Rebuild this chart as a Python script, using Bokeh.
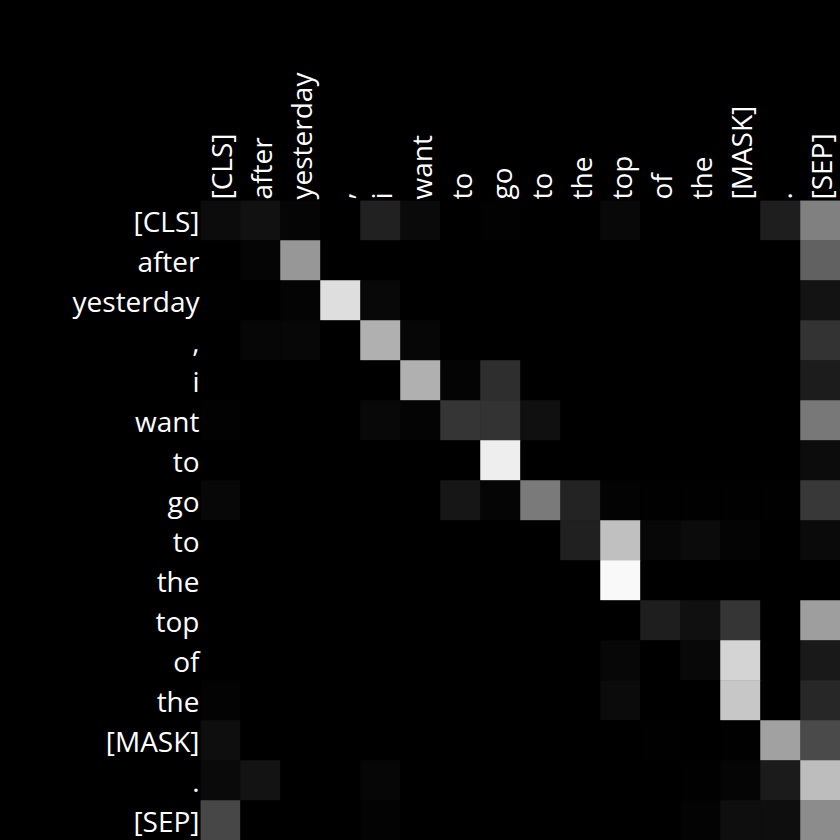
import math
from bokeh.plotting import figure
from bokeh.models import ColumnDataSource, LinearColorMapper, FixedTicker
from bokeh.transform import transform
from bokeh.embed import file_html
from bokeh.resources import INLINE

tokens = ["[CLS]", "after", "yesterday", ",", "i", "want", "to", "go",
          "to", "the", "top", "of", "the", "[MASK]", ".", "[SEP]"]

row_00 = [0.05, 0.07, 0.02, 0.0, 0.13, 0.04, 0.0, 0.01, 0.0, 0.0, 0.035, 0.0, 0.0, 0.0, 0.12, 0.50]
row_01 = [0.0, 0.02, 0.59, 0.0, 0.0, 0.0, 0.0, 0.0, 0.0, 0.0, 0.0, 0.0, 0.0, 0.0, 0.0, 0.38]
row_02 = [0.004, 0.0, 0.016, 0.87, 0.035, 0.0, 0.0, 0.0, 0.0, 0.0, 0.0, 0.0, 0.0, 0.0, 0.0, 0.075]
row_03 = [0.0, 0.024, 0.03, 0.0, 0.69, 0.027, 0.0, 0.0, 0.0, 0.0, 0.0, 0.0, 0.0, 0.0, 0.0, 0.20]
row_04 = [0.0, 0.0, 0.0, 0.0, 0.0, 0.69, 0.016, 0.18, 0.0, 0.0, 0.0, 0.0, 0.0, 0.0, 0.0, 0.11]
row_05 = [0.008, 0.0, 0.0, 0.0, 0.035, 0.016, 0.21, 0.20, 0.063, 0.0, 0.0, 0.0, 0.0, 0.0, 0.0, 0.47]
row_06 = [0.0, 0.0, 0.0, 0.0, 0.0, 0.0, 0.0, 0.93, 0.0, 0.0, 0.0, 0.0, 0.0, 0.0, 0.0, 0.047]
row_07 = [0.03, 0.0, 0.0, 0.0, 0.0, 0.0, 0.086, 0.02, 0.48, 0.137, 0.012, 0.004, 0.004, 0.004, 0.004, 0.22]
row_08 = [0.0, 0.0, 0.0, 0.0, 0.0, 0.0, 0.0, 0.0, 0.0, 0.125, 0.75, 0.03, 0.043, 0.016, 0.0, 0.04]
row_09 = [0.0, 0.0, 0.0, 0.0, 0.0, 0.0, 0.0, 0.0, 0.0, 0.0, 0.976, 0.0, 0.0, 0.0, 0.0, 0.0]
row_10 = [0.0, 0.0, 0.0, 0.0, 0.0, 0.0, 0.0, 0.0, 0.0, 0.0, 0.0, 0.118, 0.063, 0.21, 0.0, 0.62]
row_11 = [0.0, 0.0, 0.0, 0.0, 0.0, 0.0, 0.0, 0.0, 0.0, 0.0, 0.03, 0.0, 0.035, 0.83, 0.0, 0.10]
row_12 = [0.012, 0.0, 0.0, 0.0, 0.0, 0.0, 0.0, 0.0, 0.0, 0.0, 0.043, 0.0, 0.0, 0.78, 0.0, 0.153]
row_13 = [0.055, 0.0, 0.0, 0.0, 0.0, 0.0, 0.0, 0.0, 0.0, 0.0, 0.0, 0.004, 0.0, 0.004, 0.63, 0.29]
row_14 = [0.04, 0.078, 0.0, 0.0, 0.024, 0.0, 0.0, 0.0, 0.0, 0.0, 0.0, 0.0, 0.004, 0.02, 0.106, 0.74]
row_15 = [0.28, 0.0, 0.0, 0.0, 0.012, 0.0, 0.0, 0.0, 0.0, 0.0, 0.0, 0.0, 0.012, 0.055, 0.055, 0.55]

rows = [row_00, row_01, row_02, row_03, row_04, row_05, row_06, row_07,
        row_08, row_09, row_10, row_11, row_12, row_13, row_14, row_15]

n = len(tokens)
xs, ys, ws = [], [], []
for i, r in enumerate(rows):
    for j, v in enumerate(r):
        xs.append(j + 0.5)
        ys.append(i + 0.5)
        ws.append(v)

src = ColumnDataSource(dict(x=xs, y=ys, w=ws))
palette = ["#%02x%02x%02x" % (k, k, k) for k in range(256)]
mapper = LinearColorMapper(palette=palette, low=0.0, high=1.0)

p = figure(width=840, height=840, x_range=(0, n), y_range=(n, 0),
           x_axis_location="above", output_backend="svg",
           toolbar_location=None, min_border_left=200, min_border_top=200,
           min_border_right=0, min_border_bottom=0)
p.background_fill_color = "black"
p.border_fill_color = "black"
p.outline_line_color = None
p.grid.visible = False
p.styles = {"background-color": "black"}

p.rect(x="x", y="y", width=1, height=1, source=src,
       fill_color=transform("w", mapper), line_color=transform("w", mapper),
       line_width=0.5)

ticks = [k + 0.5 for k in range(n)]
overrides = {k + 0.5: t for k, t in enumerate(tokens)}
for ax in (p.xaxis[0], p.yaxis[0]):
    ax.ticker = FixedTicker(ticks=ticks)
    ax.major_label_overrides = overrides
    ax.axis_line_color = None
    ax.major_tick_line_color = None
    ax.minor_tick_line_color = None
    ax.major_tick_in = 0
    ax.major_tick_out = 0
    ax.minor_tick_out = 0
    ax.major_label_text_color = "white"
    ax.major_label_text_font = "Open Sans"
    ax.major_label_text_font_size = "28px"
    ax.major_label_standoff = 1
p.xaxis.major_label_orientation = math.pi / 2

open("out.html", "w").write(file_html(p, INLINE))
